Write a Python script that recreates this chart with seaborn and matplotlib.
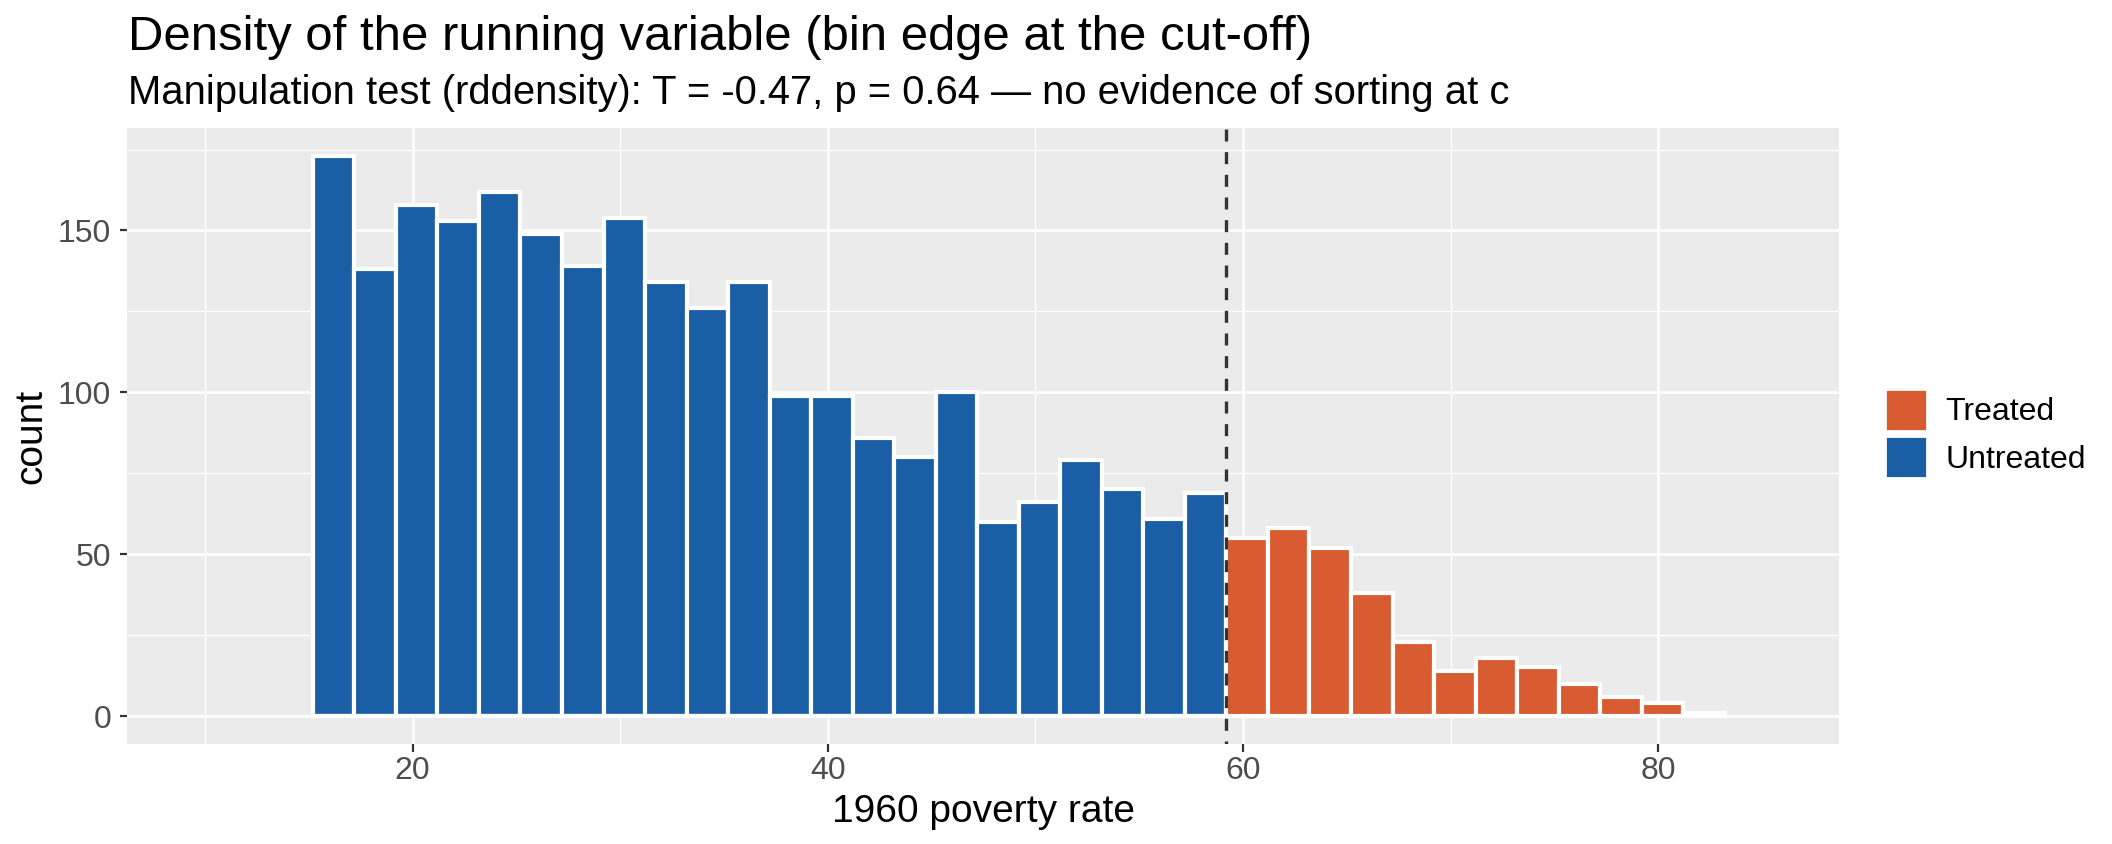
import numpy as np
import pandas as pd
import matplotlib
matplotlib.use("Agg")
import matplotlib.pyplot as plt
from matplotlib.patches import Patch
from matplotlib.ticker import FixedLocator
import seaborn as sns

# ---------------- data ----------------
cutoff = 59.1984
binwidth = 2.0
untreated_counts = [173, 138, 158, 153, 162, 149, 139, 154, 134, 126, 134,
                    99, 99, 86, 80, 100, 60, 66, 79, 70, 61, 69]
treated_counts = [55, 58, 52, 38, 23, 14, 18, 15, 10, 6, 4, 1]
groups = ["Treated", "Untreated"]
colors = {"Treated": "#D95B32", "Untreated": "#1A5FA6"}
x_ticks = [20, 40, 60, 80]
x_minor = [10, 30, 50, 70]
y_ticks = [0, 50, 100, 150]
y_minor = [25, 75, 125, 175]
title = "Density of the running variable (bin edge at the cut-off)"
subtitle = "Manipulation test (rddensity): T = -0.47, p = 0.64 \u2014 no evidence of sorting at c"
x_label = "1960 poverty rate"
y_label = "count"

# ---------------- build table ----------------
n_u, n_t = len(untreated_counts), len(treated_counts)
edges = cutoff + binwidth * np.arange(-n_u, n_t + 1)
centers = edges[:-1] + binwidth / 2
df = pd.DataFrame({
    "x": centers,
    "count": untreated_counts + treated_counts,
    "group": ["Untreated"] * n_u + ["Treated"] * n_t,
})

# ---------------- style ----------------
plt.rcParams["font.family"] = ["Liberation Sans", "DejaVu Sans"]

fig = plt.figure(figsize=(10.56, 4.22), dpi=200)
ax = fig.add_axes([127 / 2112, 1 - 744 / 844, (1839 - 127) / 2112, (744 - 128) / 844])
ax.set_facecolor("#EBEBEB")
for s in ax.spines.values():
    s.set_visible(False)

sns.histplot(data=df, x="x", weights="count", hue="group", hue_order=groups,
             palette=colors, bins=edges.tolist(), edgecolor="white", linewidth=1.5,
             alpha=1, legend=False, ax=ax)

ax.axvline(cutoff, color="#333333", linewidth=1.2, linestyle=(2.7, (3.6, 3.2)), zorder=5)

ymax = max(untreated_counts + treated_counts)
ax.set_ylim(-0.05 * ymax, 1.05 * ymax)
ax.set_xlim(6.25, 88.7)

ax.xaxis.set_major_locator(FixedLocator(x_ticks))
ax.xaxis.set_minor_locator(FixedLocator(x_minor))
ax.yaxis.set_major_locator(FixedLocator(y_ticks))
ax.yaxis.set_minor_locator(FixedLocator(y_minor))
ax.set_axisbelow(True)
ax.grid(which="major", color="white", linewidth=0.9)
ax.grid(which="minor", color="white", linewidth=0.45)
ax.tick_params(which="major", length=2.7, width=0.8, color="#333333",
               labelcolor="#4D4D4D", labelsize=11.5)
ax.tick_params(axis="x", which="major", pad=1.5)
ax.tick_params(axis="y", which="major", pad=3)
ax.tick_params(which="minor", length=0)

ax.set_xlabel(x_label, fontsize=14, color="black", labelpad=3)
ax.set_ylabel(y_label, fontsize=14, color="black", labelpad=3)

fig.text(128 / 2112, 1 - 50 / 844, title, fontsize=17.7, color="black",
         ha="left", va="baseline")
fig.text(128 / 2112, 1 - 104 / 844, subtitle, fontsize=14.4, color="black",
         ha="left", va="baseline")

handles = [Patch(facecolor=colors[g], edgecolor="white", linewidth=1.0, label=g)
           for g in groups]
fs = 11.5
fs_px = fs * 200 / 72
fig.legend(handles=handles, loc="upper left",
           bbox_to_anchor=(1885 / 2112, 1 - 389 / 844), frameon=False,
           fontsize=fs, handlelength=42 / fs_px, handleheight=1.65,
           labelspacing=0.16, handletextpad=18 / fs_px,
           borderpad=0, borderaxespad=0)

fig.savefig("out.png", dpi=200)
